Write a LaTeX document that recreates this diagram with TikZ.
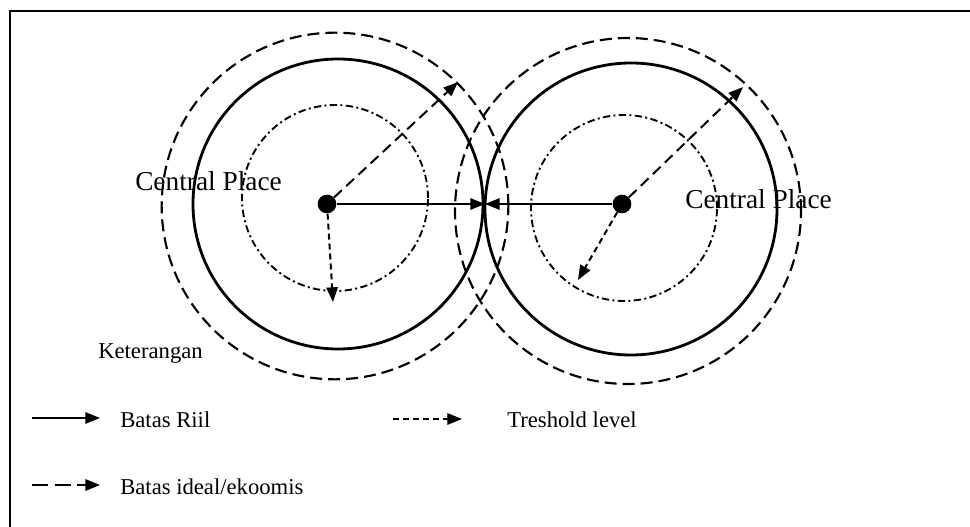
\documentclass[tikz,border=0pt]{standalone}
\usepackage{fontspec}
\setmainfont{Liberation Serif}
\usetikzlibrary{arrows.meta,positioning}

\tikzset{
  arrowtip/.style={-{Triangle[length=11pt,width=8.5pt]}},
  riil/.style={line width=1.4pt, arrowtip},
  ideal/.style={line width=1.5pt, dash pattern=on 8pt off 4.5pt, arrowtip},
  keyideal/.style={line width=1.5pt, dash pattern=on 12pt off 5pt, arrowtip},
  treshold/.style={line width=1.5pt, dash pattern=on 4.5pt off 3pt, arrowtip},
  ring/.style={line width=2.1pt},
  outerring/.style={line width=1.6pt, dash pattern=on 9pt off 4.5pt},
  innerring/.style={line width=1.4pt, dash pattern=on 5.5pt off 2.5pt on 1.5pt off 2.5pt},
  dot/.style={circle, fill, inner sep=0pt, minimum size=14pt},
  label/.style={inner sep=0pt, anchor=base west},
}

\begin{document}
\begin{tikzpicture}[x=0.75pt,y=-0.75pt]
    \useasboundingbox (0,0) rectangle (970,527);
    % frame
    \draw[line width=1.6pt] (10,527) -- (10,11) -- (970,11);

    % left place
    \draw[outerring] (335,206) circle[radius=130pt];
    \draw[ring] (338,204) circle[radius=108.75pt];
    \draw[innerring] (335,198) circle[radius=69.75pt];
    % right place
    \draw[outerring] (628,211) circle[radius=129.75pt];
    \draw[ring] (631,209) circle[radius=109.5pt];
    \draw[innerring] (624,208) circle[radius=69.75pt];

    \node[dot] (ldot) at (327,204) {};
    \node[dot] (rdot) at (622,204) {};
    \coordinate (meet) at (485,204);
    \coordinate (lideal) at (458,82);
    \coordinate (ltres) at (333,302);
    \coordinate (rideal) at (743,87);
    \coordinate (rtres) at (578,280);

    \draw[riil] (ldot) -- (meet);
    \draw[riil] (rdot) -- (meet);
    \draw[ideal] (ldot) -- (lideal);
    \draw[treshold] (ldot) -- (ltres);
    \draw[ideal] (rdot) -- (rideal);
    \draw[treshold] (rdot) -- (rtres);

    \node[label, font=\fontsize{20.5}{24}\selectfont] (lname) at (135,191) {Central Place};
    \node[label, font=\fontsize{20.5}{24}\selectfont] (rname) at (685,209) {Central Place};

    % legend
    \node[label, font=\fontsize{17}{20}\selectfont] (ket) at (98,358) {Keterangan};
    \coordinate (a1) at (32,418);
    \coordinate (b1) at (100,418);
    \coordinate (a2) at (32,485);
    \coordinate (b2) at (100,485);
    \coordinate (a3) at (393,419);
    \coordinate (b3) at (462,419);
    \draw[riil] (a1) -- (b1);
    \draw[keyideal] (a2) -- (b2);
    \draw[treshold] (a3) -- (b3);
    \node[label, font=\fontsize{17}{20}\selectfont] (riiltxt) at (120,427) {Batas Riil};
    \node[label, font=\fontsize{17}{20}\selectfont] (idealtxt) at (120,494) {Batas ideal/ekoomis};
    \node[label, font=\fontsize{17}{20}\selectfont] (trestxt) at (507,427) {Treshold level};
\end{tikzpicture}
\end{document}
